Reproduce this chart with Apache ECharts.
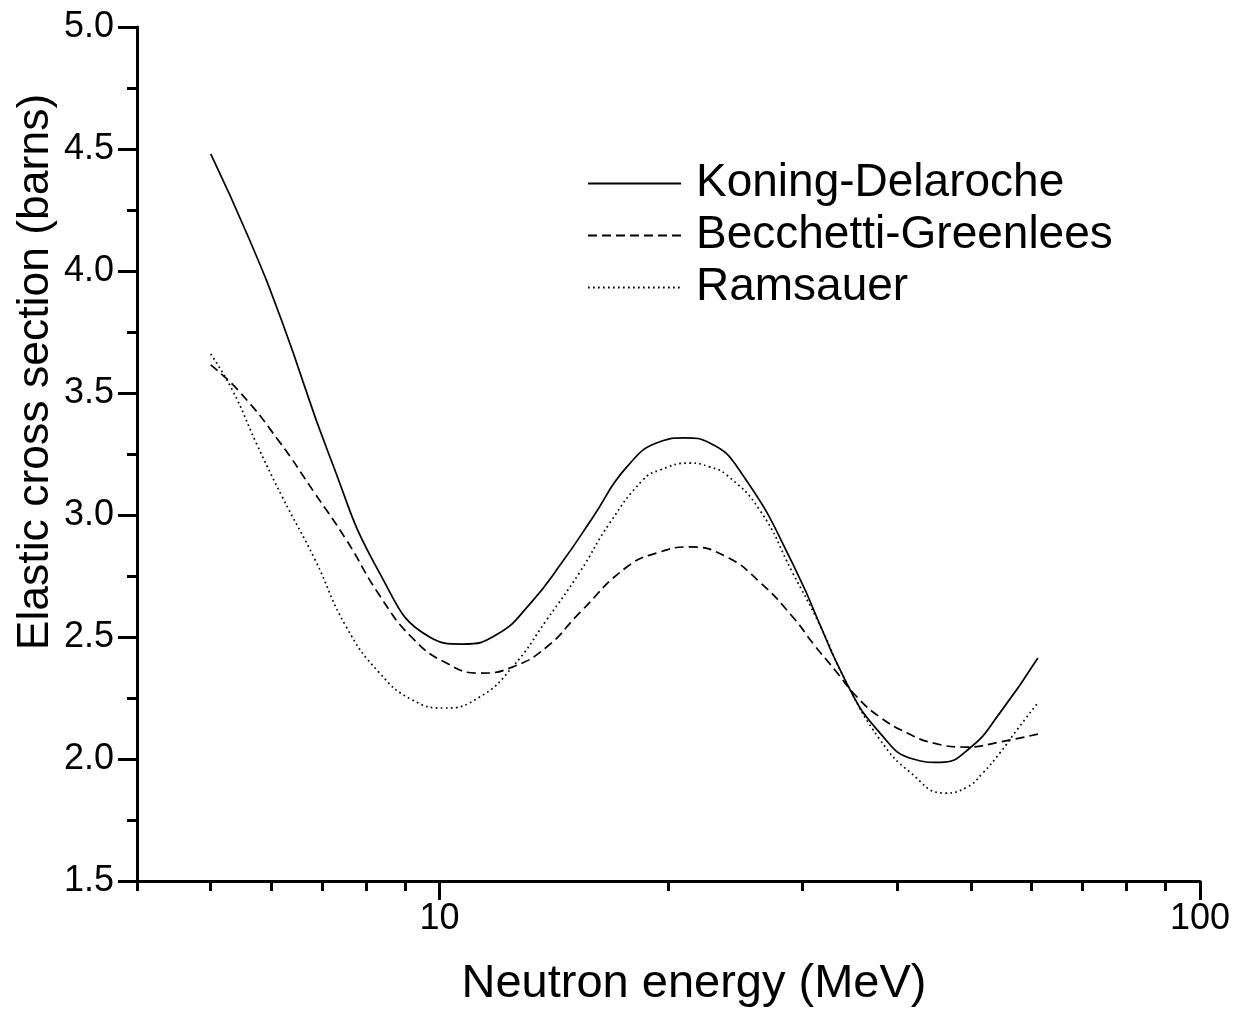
<!DOCTYPE html>
<html>
<head>
<meta charset="utf-8">
<script src="https://cdn.jsdelivr.net/npm/echarts@6/dist/echarts.min.js"></script>
<style>
html,body{margin:0;padding:0;background:#fff;}
#chart{width:1251px;height:1018px;}
</style>
</head>
<body>
<div id="chart"></div>
<script>
// Energies in MeV and elastic cross sections in barns
const seriesNames = ['Koning-Delaroche', 'Becchetti-Greenlees', 'Ramsauer'];

const kdEnergy = [5.0, 5.62, 6.21, 7.17, 8.34, 9.70, 10.72, 11.89, 13.14, 14.52, 15.90, 17.63, 19.48, 21.0, 22.66, 25.04, 29.14, 34.31, 37.93, 41.93, 45.5, 49.82, 54.56, 61.2];
const kdSigma  = [4.48, 4.13, 3.79, 3.24, 2.762, 2.50, 2.471, 2.51, 2.635, 2.81, 2.99, 3.197, 3.30, 3.316, 3.295, 3.164, 2.80, 2.31, 2.107, 2.00, 1.986, 2.045, 2.189, 2.414];

const bgEnergy = [5.0, 5.46, 6.16, 6.85, 7.54, 8.34, 9.21, 10.21, 11.29, 12.47, 13.83, 15.29, 17.63, 19.48, 21.33, 23.85, 26.37, 29.14, 31.1, 33.1, 35.4, 37.93, 41.2, 44.5, 49.4, 54.56, 61.2];
const bgSigma  = [3.615, 3.504, 3.299, 3.09, 2.898, 2.67, 2.496, 2.393, 2.352, 2.377, 2.459, 2.60, 2.787, 2.848, 2.869, 2.828, 2.725, 2.582, 2.467, 2.365, 2.254, 2.172, 2.107, 2.066, 2.049, 2.07, 2.102];

const raEnergy = [5.0, 5.34, 5.74, 6.21, 6.85, 7.54, 8.34, 9.21, 10.15, 11.29, 12.47, 13.83, 15.29, 16.74, 18.50, 19.48, 21.33, 22.66, 23.85, 26.37, 29.14, 31.62, 34.31, 37.93, 41.6, 46.2, 49.4, 51.82, 54.56, 57.44, 61.2];
const raSigma  = [3.66, 3.512, 3.295, 3.074, 2.82, 2.541, 2.352, 2.242, 2.209, 2.254, 2.377, 2.57, 2.766, 2.967, 3.143, 3.184, 3.213, 3.197, 3.164, 3.02, 2.762, 2.55, 2.311, 2.08, 1.945, 1.86, 1.885, 1.943, 2.025, 2.119, 2.23];

// Axis settings
const xMinMeV = 4, xMaxMeV = 100;
const xMajorTicks = [10, 100];
const xMinorTicks = [4, 5, 6, 7, 8, 9, 20, 30, 40, 50, 60, 70, 80, 90];
const yMin = 1.5, yMax = 5.0, yInterval = 0.5;
const xTitle = 'Neutron energy (MeV)';
const yTitle = 'Elastic cross section (barns)';

const lg = Math.log10;
function pairs(xs, ys) { return xs.map((x, i) => [lg(x), ys[i]]); }

const FONT = '"Liberation Sans", Arial, Helvetica, sans-serif';
const chart = echarts.init(document.getElementById('chart'), null, {renderer: 'canvas'});

const baseX = {
  type: 'value', min: lg(xMinMeV), max: lg(xMaxMeV), position: 'bottom',
  splitLine: {show: false}, gridIndex: 0
};

function lineSeries(i, xs, ys, dash) {
  return {
    name: seriesNames[i], type: 'line', xAxisIndex: 0, data: pairs(xs, ys),
    smooth: 0.5, symbol: 'none',
    lineStyle: {color: '#000', width: 1.7, type: dash}, itemStyle: {color: '#000'}
  };
}

chart.setOption({
  animation: false,
  backgroundColor: '#ffffff',
  grid: {left: 137, right: 51, top: 27, bottom: 137},
  legend: {
    orient: 'vertical', left: 582, top: 155,
    itemWidth: 93, itemHeight: 12, itemGap: 5,
    data: seriesNames,
    itemStyle: {opacity: 0},
    textStyle: {fontFamily: FONT, fontSize: 46, lineHeight: 47, color: '#000', padding: [0, 0, 0, 10]}
  },
  xAxis: [
    Object.assign({}, baseX, {
      axisLine: {show: true, lineStyle: {color: '#000', width: 3}},
      axisTick: {show: true, length: 19, lineStyle: {color: '#000', width: 3}, customValues: xMajorTicks.map(lg)},
      axisLabel: {show: true, customValues: xMajorTicks.map(lg), margin: 20,
        formatter: v => String(Math.round(Math.pow(10, v))),
        fontFamily: FONT, fontSize: 36, color: '#000'}
    }),
    Object.assign({}, baseX, {
      axisLine: {show: false},
      axisTick: {show: true, length: 10, lineStyle: {color: '#000', width: 3}, customValues: xMinorTicks.map(lg)},
      axisLabel: {show: false}
    })
  ],
  yAxis: {
    type: 'value', min: yMin, max: yMax, interval: yInterval,
    splitLine: {show: false},
    axisLine: {show: true, lineStyle: {color: '#000', width: 3}},
    axisTick: {show: true, length: 19, lineStyle: {color: '#000', width: 3}},
    minorTick: {show: true, splitNumber: 2, length: 10, lineStyle: {color: '#000', width: 3}},
    axisLabel: {margin: 23, formatter: v => v.toFixed(1), fontFamily: FONT, fontSize: 36, color: '#000'}
  },
  graphic: [
    {type: 'text', x: 694, y: 984, style: {text: xTitle, font: '47px ' + FONT, fill: '#000', textAlign: 'center', textVerticalAlign: 'middle'}},
    {type: 'text', x: 36, y: 372, rotation: Math.PI / 2, style: {text: yTitle, font: '44.5px ' + FONT, fill: '#000', textAlign: 'center', textVerticalAlign: 'middle'}}
  ],
  series: [
    lineSeries(0, kdEnergy, kdSigma, 'solid'),
    lineSeries(1, bgEnergy, bgSigma, [9, 5]),
    lineSeries(2, raEnergy, raSigma, [1.7, 3.3])
  ]
});
</script>
</body>
</html>
